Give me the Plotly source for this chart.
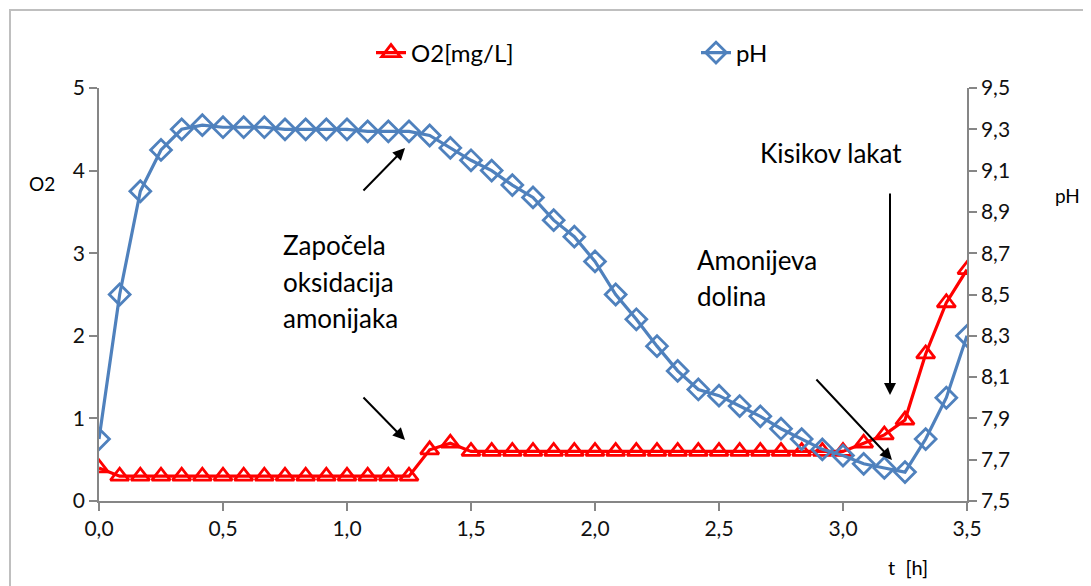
import plotly.graph_objects as go

t_h = [i / 12 for i in range(43)]
o2 = [0.40, 0.30, 0.30, 0.30, 0.30, 0.30, 0.30, 0.30, 0.30, 0.30,
      0.30, 0.30, 0.30, 0.30, 0.30, 0.30, 0.62, 0.70, 0.60, 0.60,
      0.60, 0.60, 0.60, 0.60, 0.60, 0.60, 0.60, 0.60, 0.60, 0.60,
      0.60, 0.60, 0.60, 0.60, 0.60, 0.60, 0.60, 0.70, 0.80, 0.98,
      1.78, 2.40, 2.80]
ph = [7.80, 8.50, 9.00, 9.20, 9.30, 9.32, 9.31, 9.31, 9.31, 9.30,
      9.30, 9.30, 9.30, 9.29, 9.29, 9.29, 9.27, 9.21, 9.15, 9.10,
      9.03, 8.97, 8.86, 8.78, 8.66, 8.50, 8.38, 8.25, 8.13, 8.04,
      8.01, 7.96, 7.91, 7.85, 7.80, 7.75, 7.72, 7.68, 7.66, 7.64,
      7.80, 8.00, 8.30]

FONT = "Lato, 'Open Sans', sans-serif"
AX = "#868686"
TICKFONT = dict(family=FONT, size=21, color="#111111")

fig = go.Figure()
fig.add_trace(go.Scatter(
    x=t_h, y=o2, name="O2[mg/L]", mode="lines+markers",
    line=dict(color="#FF0000", width=3.2),
    marker=dict(symbol="triangle-up-open", size=16, color="#FF0000",
                line=dict(width=2.8, color="#FF0000")),
    yaxis="y", legend="legend"))
fig.add_trace(go.Scatter(
    x=t_h, y=ph, name="pH", mode="lines+markers",
    line=dict(color="#4F81BD", width=3.2),
    marker=dict(symbol="diamond-open", size=16, color="#4F81BD",
                line=dict(width=2.8, color="#4F81BD")),
    yaxis="y2", legend="legend2"))

# plot area in page pixels: x 99..967, y 88..501 (body has 8px margin)
def px(xp, yp):
    return ((xp - 99) / 868, (501 - yp) / 413)

lx1, ly = px(371, 53)
lx2, _ = px(696, 53)

fig.update_layout(
    width=1091, height=586,
    margin=dict(l=91, r=132, t=80, b=93),
    paper_bgcolor="white", plot_bgcolor="white",
    separators=", ",
    font=dict(family=FONT, size=20, color="#111111"),
    showlegend=True,
    legend=dict(orientation="h", x=lx1, xanchor="left", y=ly, yanchor="middle",
                font=dict(size=24, color="#000000"), bgcolor="rgba(0,0,0,0)"),
    legend2=dict(orientation="h", x=lx2, xanchor="left", y=ly, yanchor="middle",
                 font=dict(size=24, color="#000000"), bgcolor="rgba(0,0,0,0)"),
    xaxis=dict(range=[0, 3.5], tickvals=[0, 0.5, 1, 1.5, 2, 2.5, 3, 3.5],
               tickformat=".1f", showgrid=False, zeroline=False, tickfont=TICKFONT,
               showline=True, linecolor=AX, linewidth=1.5,
               ticks="outside", ticklen=8, tickcolor=AX, tickwidth=1.5),
    yaxis=dict(range=[0, 5], dtick=1, showgrid=False, zeroline=False, tickfont=TICKFONT,
               showline=True, linecolor=AX, linewidth=1.5,
               ticks="outside", ticklen=8, tickcolor=AX, tickwidth=1.5),
    yaxis2=dict(range=[7.5, 9.5], tickvals=[7.5, 7.7, 7.9, 8.1, 8.3, 8.5, 8.7, 8.9, 9.1, 9.3, 9.5],
                tickformat=".1f", overlaying="y", side="right", tickfont=TICKFONT,
                showgrid=False, zeroline=False,
                showline=True, linecolor=AX, linewidth=1.5,
                ticks="outside", ticklen=8, tickcolor=AX, tickwidth=1.5),
)

# outer chart border
bx0, by1 = px(10, 10)
fig.add_shape(type="rect", xref="paper", yref="paper",
              x0=bx0, x1=1.2, y0=-0.3, y1=by1,
              line=dict(color="#BFBFBF", width=2), layer="below")

def txt(x, y, s, size=18, xa="left"):
    fig.add_annotation(xref="paper", yref="paper", x=x, y=y, text=s, showarrow=False,
                       xanchor=xa, yanchor="middle", align="left",
                       font=dict(size=size, color="#000000", family=FONT))

x, y = px(27, 183); txt(x, y, "O2", 19)
x, y = px(1053, 195); txt(x, y, "pH", 19)
x, y = px(886, 567); txt(x, y, "t  [h]", 20)

for s, yy in (("Započela", 245), ("oksidacija", 282), ("amonijaka", 318)):
    x, y = px(281, yy); txt(x, y, s, 26)
x, y = px(758, 153); txt(x, y, "Kisikov lakat", 26)
for s, yy in (("Amonijeva", 260), ("dolina", 296)):
    x, y = px(695, yy); txt(x, y, s, 26)

def arrow(x0p, y0p, x1p, y1p):
    ax_, ay_ = px(x0p, y0p)
    hx, hy = px(x1p, y1p)
    fig.add_annotation(xref="x domain", yref="y domain", axref="x domain", ayref="y domain",
                       x=hx, y=hy, ax=ax_, ay=ay_, text="", showarrow=True,
                       arrowhead=2, arrowsize=1.2, arrowwidth=2, arrowcolor="#000000")

arrow(362, 192, 405, 148)
arrow(362, 396, 405, 440)
arrow(815, 378, 892, 460)
arrow(890, 192, 890, 395)

fig.write_html("out.html")
